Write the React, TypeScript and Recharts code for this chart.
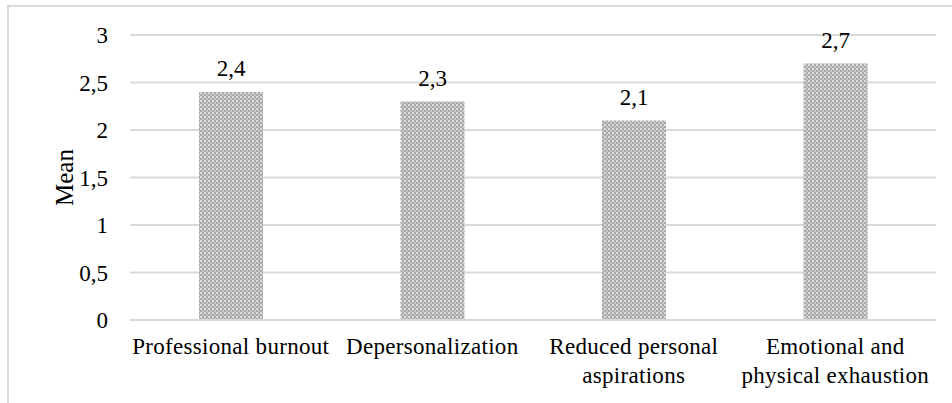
import React from 'react';
import { BarChart, Bar, XAxis, YAxis, CartesianGrid, LabelList, Label } from 'recharts';

const categories = [
  'Professional burnout',
  'Depersonalization',
  'Reduced personal aspirations',
  'Emotional and physical exhaustion',
];
const means = [2.4, 2.3, 2.1, 2.7];
const tickLines = [
  ['Professional burnout'],
  ['Depersonalization'],
  ['Reduced personal', 'aspirations'],
  ['Emotional and', 'physical exhaustion'],
];
const yTicks = [0, 0.5, 1, 1.5, 2, 2.5, 3];

const data = categories.map((name, i) => ({ name, mean: means[i] }));

const FONT = '"Liberation Serif", "Times New Roman", serif';
const comma = (v: number) => String(v).replace('.', ',');

const CategoryTick = ({ x, y, index }: any) => {
  const lines = tickLines[index] || [];
  return (
    <text x={x} y={y} textAnchor="middle" fill="#000" fontFamily={FONT} fontSize={23} letterSpacing={0.3}>
      {lines.map((l, i) => (
        <tspan key={i} x={x} dy={i === 0 ? 26 : 29}>
          {l}
        </tspan>
      ))}
    </text>
  );
};

export default function App() {
  return (
    <div style={{ position: 'fixed', left: 0, top: 0, width: 952, height: 403, background: '#fff', overflow: 'hidden' }}>
      {/* chart frame, cropped at right and bottom */}
      <div
        style={{
          position: 'absolute',
          left: 7,
          top: 5,
          width: 960,
          height: 420,
          borderLeft: '2px solid #d9d9d9',
          borderTop: '2px solid #d9d9d9',
        }}
      />
      <div style={{ position: 'absolute', left: 0, top: 0 }}>
        <BarChart width={952} height={403} data={data} margin={{ top: 35, right: 16, bottom: 53, left: 0 }}>
          <defs>
            <pattern id="checker" width="4" height="4" patternUnits="userSpaceOnUse">
              <rect width="4" height="4" fill="#a9a9a9" />
              <rect x="0" y="0" width="2" height="2" fill="#dcdcdc" />
              <rect x="2" y="2" width="2" height="2" fill="#c4c4c4" />
            </pattern>
          </defs>
          <CartesianGrid vertical={false} stroke="#d9d9d9" strokeWidth={2} />
          <XAxis
            dataKey="name"
            axisLine={{ stroke: '#d9d9d9', strokeWidth: 2 }}
            tickLine={false}
            tick={<CategoryTick />}
            interval={0}
          />
          <YAxis
            width={130}
            domain={[0, 3]}
            ticks={yTicks}
            axisLine={false}
            tickLine={false}
            tickMargin={16}
            tickFormatter={comma}
            tick={{ fill: '#000', fontFamily: FONT, fontSize: 23 }}
          >
            <Label
              content={({ viewBox }: any) => {
                const cx = 64;
                const cy = viewBox.y + viewBox.height / 2;
                return (
                  <text
                    x={cx}
                    y={cy}
                    transform={`rotate(-90 ${cx} ${cy})`}
                    textAnchor="middle"
                    dominantBaseline="central"
                    fill="#000"
                    fontFamily={FONT}
                    fontSize={25}
                  >
                    Mean
                  </text>
                );
              }}
            />
          </YAxis>
          <Bar dataKey="mean" fill="url(#checker)" barSize={64} isAnimationActive={false}>
            <LabelList
              dataKey="mean"
              position="top"
              offset={16}
              formatter={(v: any) => comma(v)}
              fill="#000"
              fontFamily={FONT}
              fontSize={23}
            />
          </Bar>
        </BarChart>
      </div>
    </div>
  );
}
